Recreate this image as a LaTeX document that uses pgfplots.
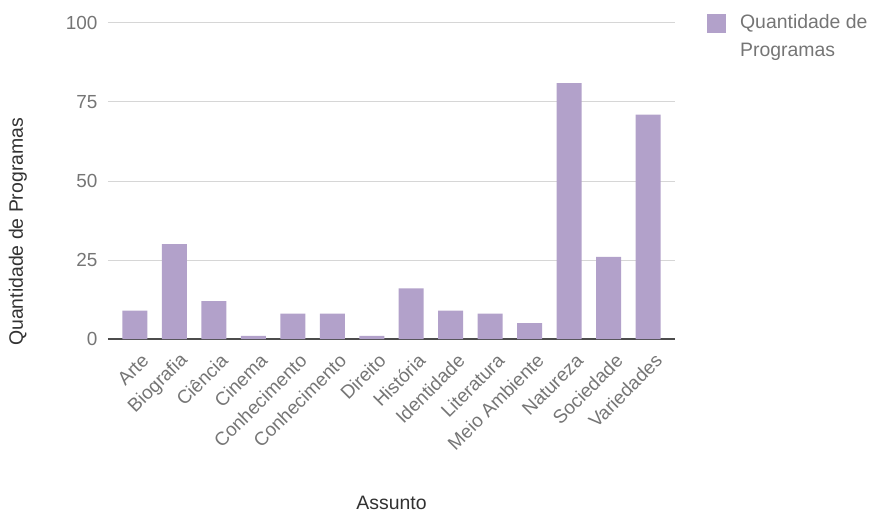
\documentclass[border=0pt]{standalone}
\usepackage{fontspec}
\setmainfont{Liberation Sans}
\usepackage{pgfplots}
\pgfplotsset{compat=1.18}
\definecolor{barpurple}{RGB}{178,161,202}
\definecolor{ticktext}{RGB}{117,117,117}
\definecolor{gridgray}{RGB}{214,214,214}
\definecolor{titletext}{RGB}{50,50,50}

\begin{document}
\begin{tikzpicture}
  \path[use as bounding box] (-108bp,-175bp) rectangle (772bp,339bp);
  \begin{axis}[
      at={(0bp,0bp)}, anchor=south west,
      scale only axis,
      width=567bp, height=316bp,
      xmin=-0.68, xmax=13.68,
      ymin=0, ymax=100,
      ytick={0,25,50,75,100},
      xtick=data,
      xticklabels={Arte,Biografia,Ciência,Cinema,Conhecimento,Conhecimento,Direito,História,Identidade,Literatura,Meio Ambiente,Natureza,Sociedade,Variedades},
      axis line style={draw=none},
      major tick length=0pt,
      ymajorgrids, grid style={gridgray, line width=1bp},
      extra y ticks={0}, extra y tick labels={},
      extra y tick style={grid style={black!70, line width=1.5bp}},
      tick label style={font=\fontsize{19}{22}\selectfont, text=ticktext},
      yticklabel style={xshift=-7bp},
      xticklabel style={xshift=13bp, yshift=-16bp, rotate=45, anchor=east},
      /pgf/number format/assume math mode=true,
      ylabel={Quantidade de Programas},
      ylabel style={font=\fontsize{19.5}{22}\selectfont, text=titletext, at={(rel axis cs:-0.159,0.339)}, anchor=center},
      xlabel={Assunto},
      xlabel style={font=\fontsize{19.5}{22}\selectfont, text=titletext, at={(rel axis cs:0.5,-0.519)}, anchor=center},
      legend style={at={(1.051,1.039)}, anchor=north west, draw=none, fill=none,
        font=\fontsize{19.5}{28}\selectfont, text=ticktext,
        nodes={align=left, inner xsep=0pt}, column sep=14bp},
      legend cell align=left,
      legend image code/.code={\fill[barpurple] (0bp,4bp) rectangle (19bp,23bp);},
    ]
    \addplot[ybar, bar width=25bp, fill=barpurple, draw=none] coordinates {
      (0,9) (1,30) (2,12) (3,1) (4,8) (5,8) (6,1) (7,16)
      (8,9) (9,8) (10,5) (11,81) (12,26) (13,71)
    };
    \addlegendentry{Quantidade de\\Programas}
  \end{axis}
\end{tikzpicture}
\end{document}
